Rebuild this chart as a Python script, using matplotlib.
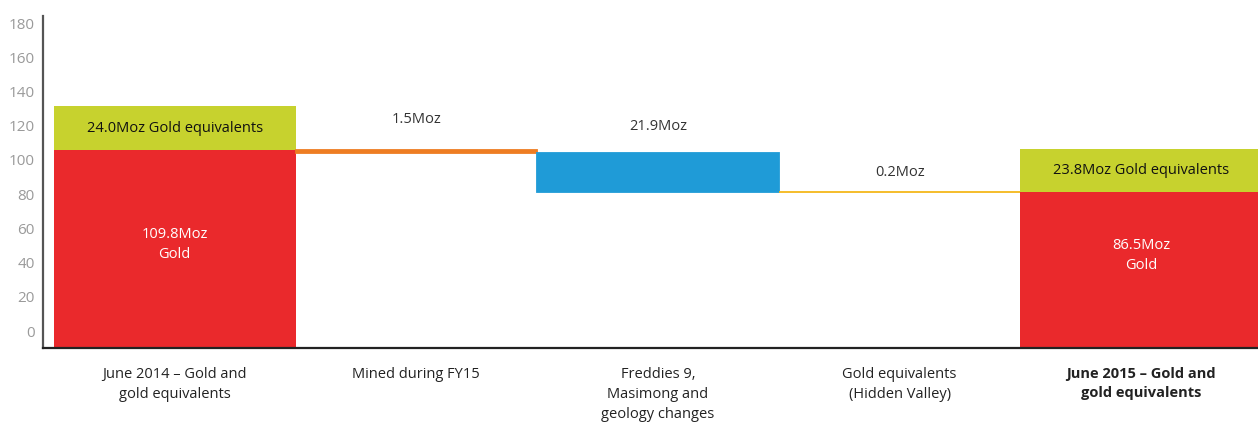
import matplotlib
matplotlib.use("Agg")
import matplotlib.pyplot as plt
import numpy as np

# ---- data ----
categories = ["June 2014 – Gold and\ngold equivalents",
              "Mined during FY15",
              "Freddies 9,\nMasimong and\ngeology changes",
              "Gold equivalents\n(Hidden Valley)",
              "June 2015 – Gold and\ngold equivalents"]
start_gold = 109.8
start_equiv = 24.0
changes = [-1.5, -21.9, -0.2]
change_labels = ["1.5Moz", "21.9Moz", "0.2Moz"]
end_gold = 86.5
end_equiv = 23.8
yticks = list(range(0, 181, 20))

# ---- style ----
RED = "#EA292C"
LIME = "#C7D22E"
change_colors = ["#EE7D22", "#1F9BD7", "#F5B81A"]
FONT = ["Open Sans", "DejaVu Sans"]
plt.rcParams["font.family"] = FONT

W, H = 1258, 425
fig = plt.figure(figsize=(W / 100, H / 100), dpi=100)
ax = fig.add_axes([43 / W, (H - 348.3) / H, (W - 43) / W, (348.3 - 15.7) / H])

x = np.arange(len(categories))
bw = 1.0

# start bar
ax.bar(x[0], start_gold, width=bw, color=RED, linewidth=0)
ax.bar(x[0], start_equiv, bottom=start_gold, width=bw, color=LIME, linewidth=0)

# floating changes (applied to the gold level)
level = start_gold
for i, (c, col) in enumerate(zip(changes, change_colors)):
    new = level + c
    ax.bar(x[i + 1], abs(c), bottom=min(level, new), width=bw, color=col,
           edgecolor=col, linewidth=1.3)
    level = new

# end bar
ax.bar(x[4], end_gold, width=bw, color=RED, linewidth=0)
ax.bar(x[4], end_equiv, bottom=end_gold, width=bw, color=LIME, linewidth=0)

# labels in bars
ax.text(x[0], start_gold + start_equiv / 2, f"{start_equiv:.1f}Moz Gold equivalents",
        ha="center", va="center", fontsize=10.5, color="#111111")
ax.text(x[0], 57.6, f"{start_gold:.1f}Moz\nGold", ha="center", va="center",
        fontsize=10.5, color="white", linespacing=1.45)
ax.text(x[4], end_gold + end_equiv / 2, f"{end_equiv:.1f}Moz Gold equivalents",
        ha="center", va="center", fontsize=10.5, color="#111111")
ax.text(x[4], 51.5, f"{end_gold:.1f}Moz\nGold", ha="center", va="center",
        fontsize=10.5, color="white", linespacing=1.45)

level = start_gold
offsets = [16.5, 14.5, 11.0]
for i, (c, lab) in enumerate(zip(changes, change_labels)):
    ax.text(x[i + 1], level + offsets[i], lab, ha="center", va="center",
            fontsize=10.5, color="#333333")
    level += c

ax.set_xlim(-0.545, 4.483)
ax.set_ylim(0, 184)
ax.set_xticks(x)
ax.set_xticklabels(categories, fontsize=10.5, color="#222222", linespacing=1.45, va="top")
ax.get_xticklabels()[-1].set_fontweight("bold")
ax.tick_params(axis="x", length=0, pad=13.5)
ax.set_yticks([])

for s in ["top", "right"]:
    ax.spines[s].set_visible(False)
ax.spines["left"].set_color("#555555")
ax.spines["left"].set_linewidth(1.6)
ax.spines["bottom"].set_color("#222222")
ax.spines["bottom"].set_linewidth(1.6)

# tick-label axis (scale of the printed tick labels)
axt = ax.twinx()
axt.set_position(ax.get_position())
axt.set_ylim(-10.1, 184.3)
axt.yaxis.set_ticks_position("left")
axt.yaxis.set_label_position("left")
axt.set_yticks(yticks)
axt.set_yticklabels([str(t) for t in yticks], fontsize=11, color="#9A9A9A")
axt.tick_params(axis="y", length=0, pad=6)
for s in axt.spines.values():
    s.set_visible(False)
axt.set_xlim(ax.get_xlim())

fig.savefig("out.png", dpi=100)
